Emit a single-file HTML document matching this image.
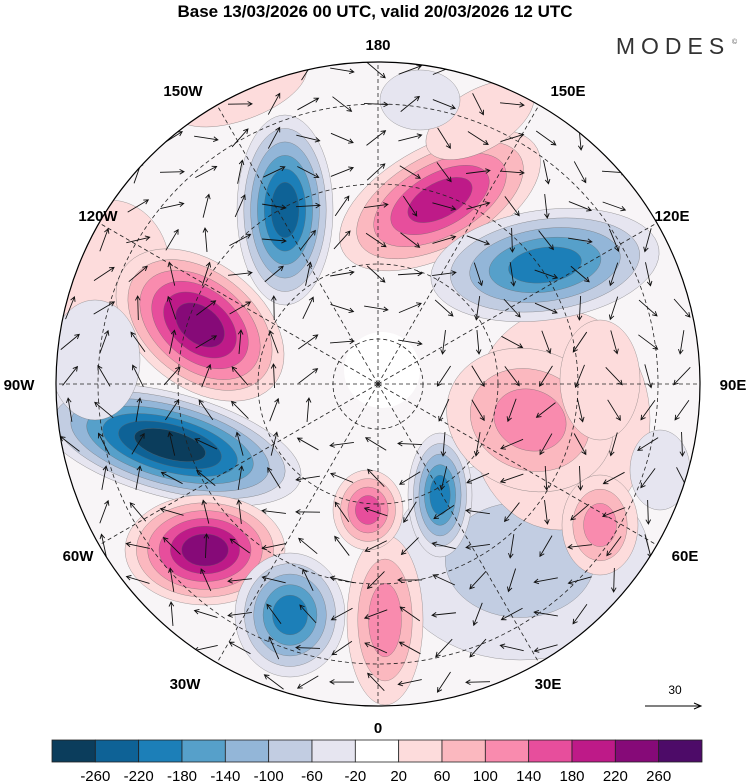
<!DOCTYPE html>
<html><head><meta charset="utf-8">
<style>
body{margin:0;background:#fff;width:750px;height:783px;overflow:hidden;font-family:"Liberation Sans",sans-serif;}
svg{display:block}
</style></head>
<body>
<svg id="map" width="750" height="783" viewBox="0 0 750 783">
<text x="375" y="17" text-anchor="middle" font-size="17" font-weight="bold">Base 13/03/2026 00 UTC, valid 20/03/2026 12 UTC</text>
<text x="673" y="54" text-anchor="middle" font-size="23" letter-spacing="6" fill="#333">MODES</text>
<text x="732" y="44" font-size="7" fill="#555">©</text>
<defs><clipPath id="disc"><circle cx="378" cy="384" r="322"/></clipPath></defs>
<g id="field" clip-path="url(#disc)"></g>
<g id="grid" clip-path="url(#disc)"></g>
<g id="vec" clip-path="url(#disc)"></g>
<circle cx="378" cy="384" r="322" fill="none" stroke="#000" stroke-width="1.2"/>
<g font-size="15" font-weight="bold" text-anchor="middle">
<text x="378" y="50">180</text>
<text x="568" y="96">150E</text>
<text x="672" y="221">120E</text>
<text x="733" y="390">90E</text>
<text x="685" y="561">60E</text>
<text x="548" y="689">30E</text>
<text x="378" y="733">0</text>
<text x="185" y="689">30W</text>
<text x="78" y="561">60W</text>
<text x="19" y="390">90W</text>
<text x="98" y="221">120W</text>
<text x="183" y="96">150W</text>
</g>
<g>
<text x="675" y="694" font-size="12" text-anchor="middle">30</text>
<line x1="645" y1="706" x2="700" y2="706" stroke="#000"/>
<path d="M694 703 L701 706 L694 709" fill="none" stroke="#000"/>
</g>
<g id="cbar"></g>
</svg>
<script>
const levels=[-260,-220,-180,-140,-100,-60,-20,20,60,100,140,180,220,260];
const colors=["#0b3d5c","#0e6296","#1c7fb8","#56a0ca","#93b6d8","#c2cde2","#e6e5f0","#ffffff","#fddcdc","#fbb8bf","#f98bae","#e74e9c","#be1a88","#860a78","#4d0b68"];
const blobX=[520,560,110,285,440,545,200,170,205,290,385,368,440,530,600,240,95,480,600,660,420];
const blobY=[560,420,270,210,200,265,325,445,550,615,620,510,495,420,525,90,360,120,380,470,100];
const blobRx=[130,90,60,48,110,115,95,135,80,55,38,35,32,85,38,70,45,60,40,30,40];
const blobRy=[100,110,70,95,55,55,62,52,55,62,85,40,62,70,50,30,60,30,60,40,30];
const blobRot=[0,0,0,0,-28,-8,38,15,0,0,0,0,0,20,0,-20,0,-30,0,0,0];
const blobVal=[-70,30,30,-230,190,-190,230,-270,230,-190,110,150,-190,110,110,60,-30,60,60,-60,-60];
const lonAngle=[90,60,30,0,-30,-60,-90,-120,-150,180,150,120];
const NS="http://www.w3.org/2000/svg";
const cx=378,cy=384,R=322;
function mk(t,a,p){const e=document.createElementNS(NS,t);for(const k in a)e.setAttribute(k,a[k]);p.appendChild(e);return e;}
function colorFor(v){let i=0;while(i<levels.length&&v>levels[i])i++;return colors[i];}
const field=document.getElementById('field');
const bg=mk('rect',{x:0,y:0,width:750,height:783,fill:"#f8f5f7"},field);


for(let b=0;b<blobX.length;b++){
  const v=blobVal[b],s=Math.sign(v);
  const g=mk('g',{transform:`rotate(${blobRot[b]} ${blobX[b]} ${blobY[b]})`},field);
  
  
  const steps=[];for(const L of levels){if(s>0&&L>0&&L<v)steps.push(L);if(s<0&&L<0&&L>v)steps.push(L);}
  if(s<0)steps.reverse();
  const n=steps.length;
  steps.forEach((L,i)=>{
    const f=1-(i/(n))*0.85;
    const e=mk('ellipse',{cx:blobX[b],cy:blobY[b],rx:blobRx[b]*f,ry:blobRy[b]*f,fill:colorFor(L+s*1),stroke:"#666","stroke-width":0.3},g);
    
    
  });
}
const pole=mk('circle',{cx:382,cy:370,r:38,fill:"#fff"},field);


const grid=document.getElementById('grid');
[45,120,200,280].forEach(r=>{const c=mk('circle',{cx,cy,r,fill:"none",stroke:"#222","stroke-width":0.8,"stroke-dasharray":"4 3"},grid);
});
lonAngle.forEach(a=>{const t=a*Math.PI/180;const l=mk('line',{x1:cx,y1:cy,x2:cx+R*Math.cos(t),y2:cy+R*Math.sin(t),stroke:"#222","stroke-width":0.8,"stroke-dasharray":"4 3"},grid);
});
const vec=document.getElementById('vec');
for(let gx=70;gx<700;gx+=34)for(let gy=70;gy<700;gy+=34){
  const dx=gx-cx,dy=gy-cy;if(Math.hypot(dx,dy)>R||Math.hypot(dx,dy)<50)continue;
  const a=Math.atan2(dy,dx)+Math.PI/2+Math.sin(gx*0.05+gy*0.03)*0.8;
  const L=12,x2=gx+L*Math.cos(a),y2=gy+L*Math.sin(a);
  const p=mk('path',{d:`M${gx-L*Math.cos(a)} ${gy-L*Math.sin(a)} L${x2} ${y2} M${x2-5*Math.cos(a-0.5)} ${y2-5*Math.sin(a-0.5)} L${x2} ${y2} L${x2-5*Math.cos(a+0.5)} ${y2-5*Math.sin(a+0.5)}`,stroke:"#111","stroke-width":0.9,fill:"none"},vec);
  
}
const cb=document.getElementById('cbar');
const x0=52,w=650/colors.length;
colors.forEach((c,i)=>{const r=mk('rect',{x:x0+i*w,y:740,width:w,height:22,fill:c,stroke:"#222","stroke-width":0.8},cb);
});
levels.forEach((L,i)=>{const t=mk('text',{x:x0+(i+1)*w,y:781,"font-size":15,"text-anchor":"middle"},cb);t.textContent=L;
});
</script>
</body></html>
